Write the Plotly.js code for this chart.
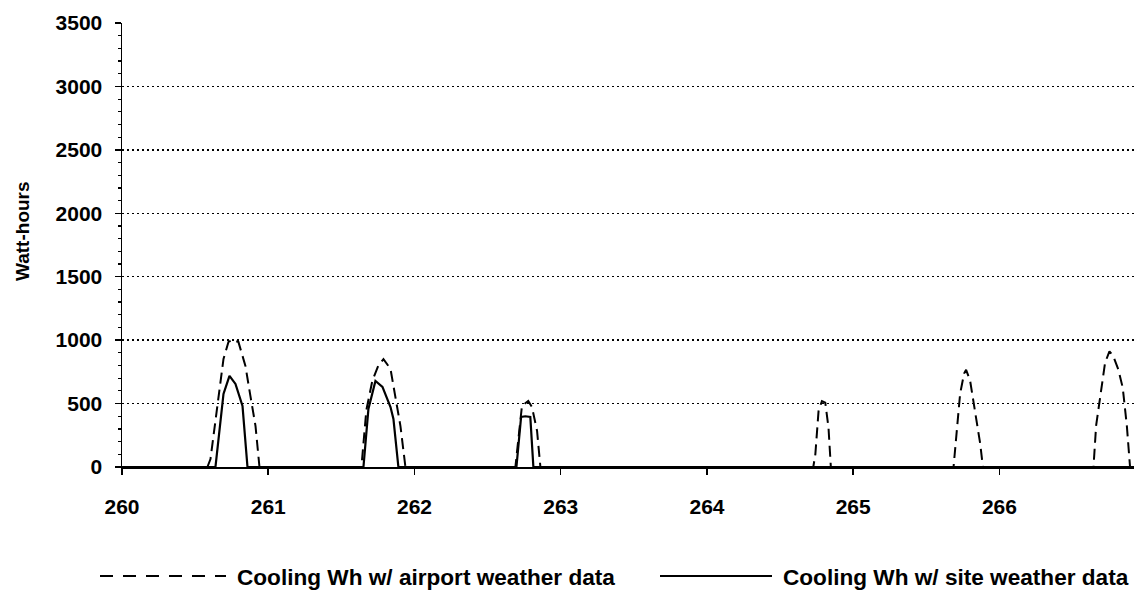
<!DOCTYPE html>
<html>
<head>
<meta charset="utf-8">
<script src="https://cdn.plot.ly/plotly-3.0.1.min.js"></script>
<style>
html,body{margin:0;padding:0;background:#fff;}
#chart{width:1134px;height:601px;}
</style>
</head>
<body>
<div id="chart"></div>
<script>
// Day-of-year tick labels
const dayTicks = [260, 261, 262, 263, 264, 265, 266];
const whTicks = [0, 500, 1000, 1500, 2000, 2500, 3000, 3500];

// Cooling Wh w/ airport weather data (dashed)
const airportDay = [260,
  260.584, 260.605, 260.639, 260.666, 260.694, 260.728, 260.755, 260.796, 260.844, 260.878, 260.913, 260.940,
  261.637, 261.671, 261.712, 261.753, 261.788, 261.836, 261.870, 261.904, 261.938,
  262.690, 262.735, 262.778, 262.803, 262.838, 262.861,
  264.727, 264.741, 264.763, 264.786, 264.809, 264.831, 264.847,
  265.686, 265.709, 265.731, 265.758, 265.772, 265.799, 265.834, 265.868, 265.887,
  266.643, 266.661, 266.700, 266.722, 266.752, 266.779, 266.813, 266.843, 266.871, 266.893,
  266.92];
const airportWh = [0,
  0, 63, 379, 639, 852, 986, 1000, 986, 797, 560, 323, 0,
  0, 450, 680, 800, 850, 773, 560, 323, 0,
  0, 483, 520, 473, 286, 0,
  0, 100, 441, 520, 507, 310, 0,
  0, 315, 578, 736, 766, 683, 447, 186, 0,
  0, 326, 665, 820, 912, 872, 768, 625, 326, 0,
  0];

// Cooling Wh w/ site weather data (solid)
const siteDay = [260,
  260.639, 260.694, 260.735, 260.776, 260.824, 260.858,
  261.651, 261.685, 261.733, 261.781, 261.836, 261.856, 261.890,
  262.697, 262.729, 262.758, 262.792, 262.813,
  266.92];
const siteWh = [0,
  0, 576, 718, 655, 481, 0,
  0, 457, 678, 631, 473, 379, 0,
  0, 394, 400, 394, 0,
  0];

const seriesNames = ["Cooling Wh w/ airport weather data", "Cooling Wh w/ site weather data"];
const yTitle = "Watt-hours";

const FONT = "Liberation Sans, Arial, Helvetica, sans-serif";

// plot area geometry (pixels)
const L = 122, T = 23, W = 1134, H = 601, B = 134, R = 0;
const PW = W - L - R, PH = H - T - B;
const px2x = p => (p - L) / PW;
const py2y = p => (H - B - p) / PH;

const traces = [
  {x: airportDay, y: airportWh, type: "scatter", mode: "lines", name: seriesNames[0],
   line: {color: "#000", width: 2, dash: "11px,6px"}, showlegend: false, hoverinfo: "skip"},
  {x: siteDay, y: siteWh, type: "scatter", mode: "lines", name: seriesNames[1],
   line: {color: "#000", width: 2.2}, showlegend: false, hoverinfo: "skip"}
];

const legY = py2y(576);
const legTextY = py2y(577);
const layout = {
  width: W, height: H,
  margin: {l: L, r: R, t: T, b: B, pad: 0},
  paper_bgcolor: "#fff", plot_bgcolor: "#fff",
  font: {family: FONT, color: "#000"},
  showlegend: false,
  xaxis: {
    range: [260, 266.92], tickvals: dayTicks, ticktext: dayTicks.map(String),
    showgrid: false, zeroline: false, showline: true, linecolor: "#000", linewidth: 2,
    ticks: "outside", ticklen: 6, tickwidth: 1.5, tickcolor: "#000",
    ticklabelstandoff: 14,
    tickfont: {family: FONT, size: 21, weight: "bold", color: "#000"}
  },
  yaxis: {
    range: [0, 3500], tickvals: whTicks, ticktext: whTicks.map(String),
    showgrid: true, gridcolor: "#000", gridwidth: 1.5, griddash: "2px,3px",
    zeroline: false, showline: true, linecolor: "#000", linewidth: 1.5,
    ticks: "outside", ticklen: 6, tickwidth: 1.5, tickcolor: "#000",
    ticklabelstandoff: 8,
    minor: {dtick: 100, ticks: "outside", ticklen: 3, tickwidth: 1.2, tickcolor: "#000", showgrid: false},
    tickfont: {family: FONT, size: 21, weight: "bold", color: "#000"}
  },
  shapes: [
    {type: "line", xref: "paper", yref: "paper", x0: px2x(100), x1: px2x(226), y0: legY, y1: legY,
     line: {color: "#000", width: 2, dash: "13px,10px"}},
    {type: "line", xref: "paper", yref: "paper", x0: px2x(660), x1: px2x(772), y0: legY, y1: legY,
     line: {color: "#000", width: 2}}
  ],
  annotations: [
    {text: yTitle, xref: "paper", yref: "paper", x: px2x(22), y: py2y(231), textangle: -90,
     showarrow: false, xanchor: "center", yanchor: "middle",
     font: {family: FONT, size: 19, weight: "bold", color: "#000"}},
    {text: seriesNames[0], xref: "paper", yref: "paper", x: px2x(235), y: legTextY, showarrow: false,
     xanchor: "left", yanchor: "middle", font: {family: FONT, size: 22.6, weight: "bold", color: "#000"}},
    {text: seriesNames[1], xref: "paper", yref: "paper", x: px2x(781), y: legTextY, showarrow: false,
     xanchor: "left", yanchor: "middle", font: {family: FONT, size: 22.6, weight: "bold", color: "#000"}}
  ]
};

Plotly.newPlot("chart", traces, layout, {staticPlot: true, displayModeBar: false});
</script>
</body>
</html>
